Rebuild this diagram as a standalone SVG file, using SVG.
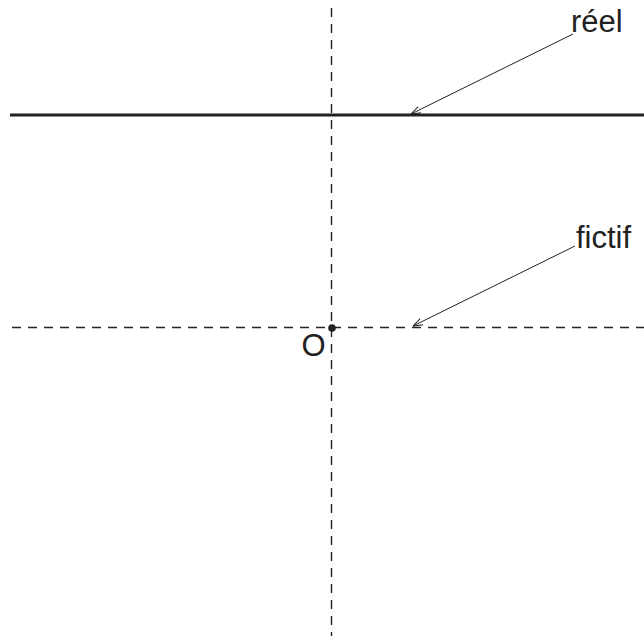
<svg xmlns="http://www.w3.org/2000/svg" width="644" height="644" viewBox="0 0 644 644">
<style>
.dash{stroke:#222;stroke-width:1.4;stroke-dasharray:9 7;fill:none}
.solid{stroke:#222;stroke-width:3;fill:none}
.lead{stroke:#222;stroke-width:1;fill:none;marker-end:url(#ah)}
.lbl{font-family:"Liberation Sans",Arial,sans-serif;font-size:31px;fill:#222}
</style>
<defs>
<marker id="ah" viewBox="0 0 10 10" refX="10" refY="5" markerWidth="10" markerHeight="10" markerUnits="userSpaceOnUse" orient="auto">
<path d="M0,1.5 L10,5 L0,8.5" fill="none" stroke="#222" stroke-width="1"/>
</marker>
</defs>
<rect width="644" height="644" fill="#fff"/>
<g id="axes">
<line class="dash" x1="331.5" y1="8" x2="331.5" y2="636"/>
<line class="dash" x1="12" y1="327.5" x2="644" y2="327.5"/>
</g>
<g id="reel-line">
<line class="solid" x1="10" y1="115" x2="644" y2="115"/>
</g>
<g id="origin">
<circle cx="332" cy="328" r="3.8" fill="#222"/>
<text class="lbl" x="301.5" y="356">O</text>
</g>
<g id="label-reel">
<text class="lbl" x="571" y="32">réel</text>
</g>
<g id="label-fictif">
<text class="lbl" x="576" y="248">fictif</text>
</g>
<g id="connectors">
<line class="lead" x1="573" y1="34" x2="411" y2="114"/>
<line class="lead" x1="575" y1="246" x2="413" y2="326"/>
</g>
</svg>
